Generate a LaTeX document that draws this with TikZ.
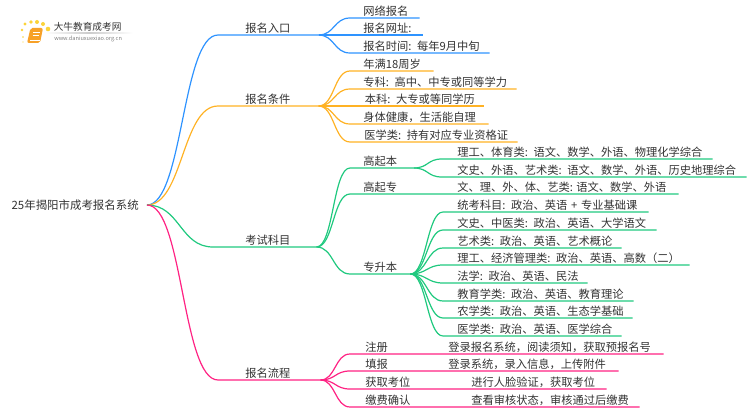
\documentclass[tikz,border=0pt]{standalone}
\usepackage{fontspec}
\setmainfont{Noto Sans CJK SC}
\newlength\pxu
\setlength\pxu{0.75pt}
\definecolor{inkgray}{HTML}{333333}
\definecolor{linkblue}{HTML}{2E93FF}
\definecolor{linkorange}{HTML}{FFB224}
\definecolor{linkgreen}{HTML}{20C97F}
\definecolor{linkpink}{HTML}{FF2283}
\definecolor{logoorange}{HTML}{F7A128}
\tikzset{
leaftext/.style={anchor=south west, inner sep=0pt, text=inkgray, text height=9pt, text depth=1.6pt,
    font=\fontsize{8.44pt}{10pt}\selectfont},
leaf/.style n args={2}{leaftext, text width=#2\pxu, align=left,
    execute at begin node={\hspace*{#1\pxu}}},
curve/.style={to path={.. controls ([xshift=#1\pxu]\tikztostart) and ([xshift=-#1\pxu]\tikztotarget) .. (\tikztotarget)}},
linkline/.style={line width=0.9pt, #1},
}
\begin{document}
\begin{tikzpicture}[x=\pxu, y=-\pxu]
\useasboundingbox (0,0) rectangle (750,410);
% logo
\fill[logoorange!55!yellow!85!white] (22,30) circle (1.4) (25,24) circle (1.6) (31,22) circle (1.9) (37,22) circle (2)
    (43,24) circle (2) (48,29) circle (2.3) (23,37) circle (0.9) (23,42) circle (0.7);
\fill[logoorange, rounded corners=1.5] (30.5,28) -- (43,28) -- (40,43) -- (27,43) -- cycle;
\draw[white, line width=0.5pt] (33,32) -- (40,32) (32.5,35) -- (39,35);
\draw[white, line width=0.4pt] (30,40.6) -- (39.5,40.6);
\shade[left color=white, right color=white, middle color=gray!40] (45,32.8) rectangle (133,33.4);
\node[anchor=west, inner sep=0pt, text=inkgray, font=\fontsize{7.25pt}{8pt}\selectfont] (logotitle) at (53.5,27) {大牛教育成考网};
\node[anchor=west, inner sep=0pt, text=gray, font=\fontsize{4.2pt}{5pt}\selectfont] (logourl) at (54,38.5) {www.daniuxuexiao.org.cn};
% root
\node[anchor=east, inner xsep=8\pxu, inner ysep=0pt, text=inkgray, text height=9pt, text depth=2pt,
    font=\fontsize{8.58pt}{10pt}\selectfont] (root) at (147,205) {25年揭阳市成考报名系统};
% level 1
\node[leaf={27}{100}] (entry) at (218,35) {报名入口};
\node[leaf={27}{100}] (cond) at (218,106) {报名条件};
\node[leaf={32}{103}] (subj) at (213,247) {考试科目};
\node[leaf={27}{102}] (proc) at (218,380) {报名流程};
% entry
\node[leaf={13}{69}] (entrya) at (350,18) {网络报名};
\node[leaf={13}{72}] (entryb) at (350,35) {报名网址:};
\node[leaf={13}{139}] (entryc) at (350,53) {报名时间: 每年9月中旬};
% cond
\node[leaf={13}{83}] (conda) at (350,71) {年满18周岁};
\node[leaf={13}{166}] (condb) at (350,89) {专科: 高中、中专或同等学力};
\node[leaf={14.5}{133}] (condc) at (350,106) {本科: 大专或等同学历};
\node[leaf={13}{138}] (condd) at (350,124) {身体健康，生活能自理};
\node[leaf={14}{167}] (conde) at (350,142) {医学类: 持有对应专业资格证};
% subj
\node[leaf={13}{63}] (gqb) at (350,168) {高起本};
\node[leaf={13}{328}] (gqz) at (350,194) {高起专};
\node[leaf={13}{60}] (zsb) at (350,274) {专升本};
\node[leaftext] (gqztext) at (457,194) {文、理、外、体、艺类: 语文、数学、外语};
\node[leaf={15}{270}] (gqba) at (442,159) {理工、体育类: 语文、数学、外语、物理化学综合};
\node[leaf={15}{304}] (gqbb) at (442,177) {文史、外语、艺术类: 语文、数学、外语、历史地理综合};
\node[leaf={14}{205}] (zsba) at (443,212) {统考科目: 政治、英语 + 专业基础课};
\node[leaf={14}{213}] (zsbb) at (443,230) {文史、中医类: 政治、英语、大学语文};
\node[leaf={14}{178}] (zsbc) at (443,248) {艺术类: 政治、英语、艺术概论};
\node[leaf={14}{246}] (zsbd) at (443,265) {理工、经济管理类: 政治、英语、高数（二）};
\node[leaf={14}{144}] (zsbe) at (443,283) {法学: 政治、英语、民法};
\node[leaf={14}{190}] (zsbf) at (443,301) {教育学类: 政治、英语、教育理论};
\node[leaf={14}{189}] (zsbg) at (443,318) {农学类: 政治、英语、生态学基础};
\node[leaf={14}{178}] (zsbh) at (443,336) {医学类: 政治、英语、医学综合};
% proc
\node[leaf={15}{313}] (proca) at (350,354) {注册};
\node[leaf={15}{268}] (procb) at (350,371) {填报};
\node[leaf={15}{256}] (procc) at (350,389) {获取考位};
\node[leaf={15}{289}] (procd) at (350,407) {缴费确认};
\node[leaftext] (procatext) at (448,354) {登录报名系统，阅读须知，获取预报名号};
\node[leaftext] (procbtext) at (448,371) {登录系统，录入信息，上传附件};
\node[leaftext] (procctext) at (471,389) {进行人脸验证，获取考位};
\node[leaftext] (procdtext) at (471,407) {查看审核状态，审核通过后缴费};
% links
\draw[linkline=linkblue] (root.east) to[curve=36] (entry.south west) -- (entry.south east);
\draw[linkline=linkorange] (root.east) to[curve=36] (cond.south west) -- (cond.south east);
\draw[linkline=linkgreen] (root.east) to[curve=33] (subj.south west) -- (subj.south east);
\draw[linkline=linkpink] (root.east) to[curve=36] (proc.south west) -- (proc.south east);
\draw[linkline=linkblue] (entry.south east) to[curve=16] (entrya.south west) -- (entrya.south east);
\draw[linkline=linkblue] (entry.south east) to[curve=16] (entryb.south west) -- (entryb.south east);
\draw[linkline=linkblue] (entry.south east) to[curve=16] (entryc.south west) -- (entryc.south east);
\draw[linkline=linkorange] (cond.south east) to[curve=16] (conda.south west) -- (conda.south east);
\draw[linkline=linkorange] (cond.south east) to[curve=16] (condb.south west) -- (condb.south east);
\draw[linkline=linkorange] (cond.south east) to[curve=16] (condc.south west) -- (condc.south east);
\draw[linkline=linkorange] (cond.south east) to[curve=16] (condd.south west) -- (condd.south east);
\draw[linkline=linkorange] (cond.south east) to[curve=16] (conde.south west) -- (conde.south east);
\draw[linkline=linkgreen] (subj.south east) to[curve=17] (gqb.south west) -- (gqb.south east);
\draw[linkline=linkgreen] (subj.south east) to[curve=17] (gqz.south west) -- (gqz.south east);
\draw[linkline=linkgreen] (subj.south east) to[curve=17] (zsb.south west) -- (zsb.south east);
\draw[linkline=linkgreen] (gqb.south east) to[curve=15] (gqba.south west) -- (gqba.south east);
\draw[linkline=linkgreen] (gqb.south east) to[curve=15] (gqbb.south west) -- (gqbb.south east);
\draw[linkline=linkgreen] (zsb.south east) to[curve=16] (zsba.south west) -- (zsba.south east);
\draw[linkline=linkgreen] (zsb.south east) to[curve=16] (zsbb.south west) -- (zsbb.south east);
\draw[linkline=linkgreen] (zsb.south east) to[curve=16] (zsbc.south west) -- (zsbc.south east);
\draw[linkline=linkgreen] (zsb.south east) to[curve=16] (zsbd.south west) -- (zsbd.south east);
\draw[linkline=linkgreen] (zsb.south east) to[curve=16] (zsbe.south west) -- (zsbe.south east);
\draw[linkline=linkgreen] (zsb.south east) to[curve=16] (zsbf.south west) -- (zsbf.south east);
\draw[linkline=linkgreen] (zsb.south east) to[curve=16] (zsbg.south west) -- (zsbg.south east);
\draw[linkline=linkgreen] (zsb.south east) to[curve=16] (zsbh.south west) -- (zsbh.south east);
\draw[linkline=linkpink] (proc.south east) to[curve=15] (proca.south west) -- (proca.south east);
\draw[linkline=linkpink] (proc.south east) to[curve=15] (procb.south west) -- (procb.south east);
\draw[linkline=linkpink] (proc.south east) to[curve=15] (procc.south west) -- (procc.south east);
\draw[linkline=linkpink] (proc.south east) to[curve=15] (procd.south west) -- (procd.south east);
\end{tikzpicture}
\end{document}
